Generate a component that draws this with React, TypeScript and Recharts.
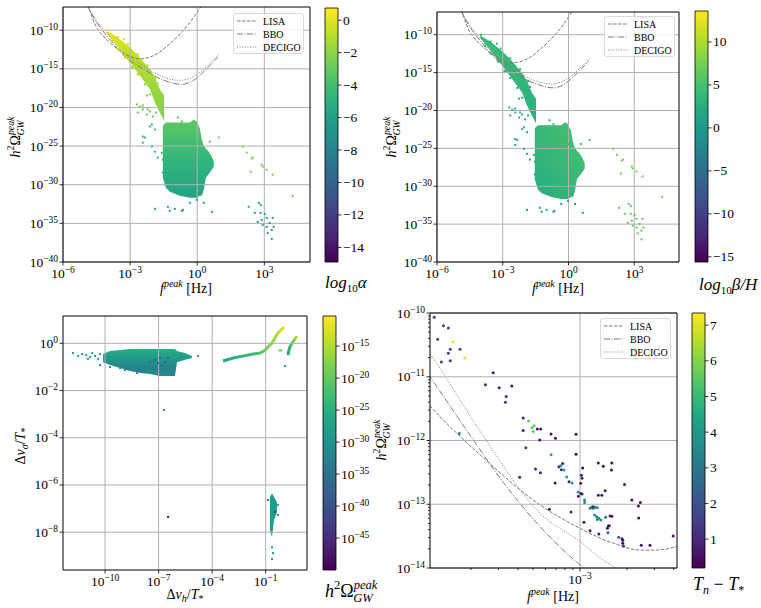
import React from 'react';
import { ComposedChart, Scatter, Line, Area, XAxis, YAxis, ReferenceLine, ReferenceArea, Legend } from 'recharts';

const SERIF = '"Liberation Serif", "DejaVu Serif", "Times New Roman", serif';
const GRID = '#b0b0b0';
const CURVE = '#7a7a7a';

// ---------------- colormap ----------------
const VIRIDIS = ['#440154', '#482475', '#414487', '#355f8d', '#2a788e', '#21918c', '#22a884', '#44bf70', '#7ad151', '#bddf26', '#fde725'];
function hexRgb(h: string) {
  return [parseInt(h.slice(1, 3), 16), parseInt(h.slice(3, 5), 16), parseInt(h.slice(5, 7), 16)];
}
function viridis(t: number) {
  const c = Math.max(0, Math.min(1, t)) * (VIRIDIS.length - 1);
  const i = Math.min(Math.floor(c), VIRIDIS.length - 2);
  const f = c - i;
  const a = hexRgb(VIRIDIS[i]);
  const b = hexRgb(VIRIDIS[i + 1]);
  const m = a.map((v, k) => Math.round(v + (b[k] - v) * f));
  return `rgb(${m[0]},${m[1]},${m[2]})`;
}

// ---------------- axes ----------------
const topFreqDomain = [1e-6, 1.1e5];
const topOmegaDomain = [1e-40, 1e-7];
const topFreqTicks = [1e-6, 1e-3, 1, 1e3];
const topOmegaTicks = [1e-40, 1e-35, 1e-30, 1e-25, 1e-20, 1e-15, 1e-10];

const dvhDomain = [4.4e-13, 20.7];
const dvsDomain = [2.5e-10, 14.4];
const dvhTicks = [1e-10, 1e-7, 1e-4, 1e-1];
const dvsTicks = [1e-8, 1e-6, 1e-4, 1e-2, 1];

const zoomFreqDomain = [1.09e-4, 4.19e-3];
const zoomOmegaDomain = [1e-14, 1e-10];
const zoomFreqMajor = [1e-3];
const zoomFreqTicks = [2e-4, 3e-4, 4e-4, 5e-4, 6e-4, 7e-4, 8e-4, 9e-4, 1e-3, 2e-3, 3e-3, 4e-3];
const zoomOmegaMajor = [1e-14, 1e-13, 1e-12, 1e-11, 1e-10];
const zoomOmegaTicks = [
  1e-14, 2e-14, 3e-14, 4e-14, 5e-14, 6e-14, 7e-14, 8e-14, 9e-14,
  1e-13, 2e-13, 3e-13, 4e-13, 5e-13, 6e-13, 7e-13, 8e-13, 9e-13,
  1e-12, 2e-12, 3e-12, 4e-12, 5e-12, 6e-12, 7e-12, 8e-12, 9e-12,
  1e-11, 2e-11, 3e-11, 4e-11, 5e-11, 6e-11, 7e-11, 8e-11, 9e-11, 1e-10,
];

// colorbars
const alphaRange = [-14.9, 0.75];
const alphaTicks = [-14, -12, -10, -8, -6, -4, -2, 0];
const betaRange = [-15.6, 13.6];
const betaTicks = [-15, -10, -5, 0, 5, 10];
const omegaCbRange = [1e-50, 5e-11];
const omegaCbTicks = [1e-45, 1e-40, 1e-35, 1e-30, 1e-25, 1e-20, 1e-15];
const tnRange = [0.19, 7.34];
const tnTicks = [1, 2, 3, 4, 5, 6, 7];

// ---------------- sensitivity curves ----------------
const lisaCurve = [
  { x: 1.3e-5, y: 2e-7 }, { x: 3e-5, y: 3e-10 }, { x: 6e-5, y: 2e-11 }, { x: 1.09e-4, y: 3.48e-12 },
  { x: 2.29e-4, y: 5.93e-13 }, { x: 5.55e-4, y: 9.73e-14 }, { x: 1e-3, y: 4.19e-14 }, { x: 1.64e-3, y: 2.44e-14 },
  { x: 2.43e-3, y: 1.91e-14 }, { x: 3.1e-3, y: 1.91e-14 }, { x: 4.17e-3, y: 2.16e-14 }, { x: 0.0174, y: 1.0e-13 },
  { x: 0.049, y: 1.1e-12 }, { x: 0.136, y: 1.7e-11 }, { x: 0.38, y: 4.5e-10 }, { x: 0.87, y: 1.2e-8 }, { x: 1.7, y: 2e-7 },
];
const bboCurve = [
  { x: 1.2e-5, y: 2e-7 }, { x: 3e-5, y: 1.3e-9 }, { x: 6e-5, y: 8e-11 }, { x: 1.09e-4, y: 1.0e-11 },
  { x: 1.88e-4, y: 1.43e-12 }, { x: 3.23e-4, y: 2.18e-13 }, { x: 5.55e-4, y: 4.44e-14 }, { x: 8.22e-4, y: 1.7e-14 },
  { x: 1.08e-3, y: 9.5e-15 }, { x: 3.7e-3, y: 1.1e-15 }, { x: 0.0128, y: 1.1e-16 }, { x: 0.044, y: 2.4e-17 },
  { x: 0.206, y: 9.8e-18 }, { x: 0.574, y: 2.4e-17 }, { x: 1.31, y: 1.4e-16 }, { x: 3.65, y: 2.8e-15 }, { x: 8.3, y: 3.1e-14 },
];
const decigoCurve = [
  { x: 1.1e-5, y: 2e-7 }, { x: 3e-5, y: 2e-9 }, { x: 6e-5, y: 1.6e-10 }, { x: 1.09e-4, y: 2.33e-11 },
  { x: 2.29e-4, y: 1.39e-12 }, { x: 5.55e-4, y: 7.2e-14 }, { x: 1e-3, y: 2.6e-14 }, { x: 1.41e-3, y: 1.33e-14 },
  { x: 1.76e-3, y: 9.5e-15 }, { x: 3.7e-3, y: 2.8e-15 }, { x: 0.0128, y: 2.6e-16 }, { x: 0.044, y: 5.9e-17 },
  { x: 0.167, y: 3.2e-17 }, { x: 0.468, y: 5.9e-17 }, { x: 1.31, y: 3.5e-16 }, { x: 3.65, y: 5.1e-15 }, { x: 9.2, y: 7.6e-14 },
];
const curveOrder = ['LISA', 'BBO', 'DECIGO'];
const curveDash: Record<string, string> = { LISA: '3.5 1.5', BBO: '6 1.5 1 1.5', DECIGO: '1 1.6' };

// ---------------- panels 1 & 2 : scan points (f_peak, h2 Omega) ----------------
const scanStreak = [
  { x: 9.2e-5, r: [4.1e-11, 7.4e-11] },
  { x: 1.7e-4, r: [5.0e-12, 3.0e-11] },
  { x: 3.5e-4, r: [3.4e-13, 6.8e-12] },
  { x: 9.8e-4, r: [6.9e-15, 6.2e-13] },
  { x: 2.7e-3, r: [1.4e-16, 3.1e-14] },
  { x: 7.7e-3, r: [2.2e-18, 8.7e-16] },
  { x: 0.0128, r: [4.5e-20, 7.9e-17] },
  { x: 0.0214, r: [2.2e-21, 2.2e-18] },
  { x: 0.033, r: [2.0e-22, 3.6e-19] },
];
const scanBlob = [
  { x: 0.029, r: [8.1e-30, 4.6e-23] },
  { x: 0.0396, r: [4.1e-31, 1.1e-22] },
  { x: 0.0598, r: [1.2e-31, 1.1e-22] },
  { x: 0.167, r: [3.7e-32, 1.1e-22] },
  { x: 0.468, r: [2.0e-32, 1.1e-22] },
  { x: 0.705, r: [2.0e-32, 2.8e-22] },
  { x: 0.96, r: [2.0e-32, 1.5e-22] },
  { x: 1.31, r: [3.7e-32, 1.9e-23] },
  { x: 1.6, r: [3.7e-32, 6.9e-25] },
  { x: 1.97, r: [2.2e-31, 1.1e-25] },
  { x: 2.42, r: [8.1e-30, 4.8e-26] },
  { x: 3.3, r: [2.7e-29, 1.9e-26] },
  { x: 4.49, r: [8.9e-29, 4.4e-27] },
  { x: 5.5, r: [2.2e-28, 9.7e-28] },
];
// a = log10 alpha, b = log10 beta/H
const scanPoints = [
  { x: 1.02e-4, y: 1e-10, a: 0.3, b: 3.5 },
  { x: 2.3e-4, y: 1.2e-11, a: -0.3, b: 3.2 },
  { x: 5.3e-4, y: 6.8e-12, a: -0.6, b: 3.0 },
  { x: 8.0e-4, y: 3.4e-13, a: -0.9, b: 2.8 },
  { x: 6.5e-4, y: 3.1e-14, a: -0.8, b: 2.6 },
  { x: 1.8e-3, y: 9.3e-15, a: -1.2, b: 2.6 },
  { x: 1.2e-3, y: 1.6e-15, a: -1.3, b: 2.5 },
  { x: 0.0174, y: 1.3e-17, a: -1.6, b: 2.5 },
  { x: 5.6e-3, y: 3.6e-19, a: -2.2, b: 2.5 },
  { x: 0.0214, y: 1.1e-19, a: -2.0, b: 2.5 },
  { x: 1.54e-4, y: 3.7e-12, a: -0.5, b: 3.0 },
  { x: 2.85e-4, y: 3.4e-13, a: -0.8, b: 2.9 },
  { x: 5.9e-4, y: 3.1e-14, a: -1.0, b: 2.8 },
  { x: 1.33e-3, y: 1.6e-15, a: -1.3, b: 2.8 },
  { x: 2.2e-3, y: 1.9e-16, a: -1.6, b: 2.7 },
  { x: 4.6e-3, y: 9.8e-18, a: -1.9, b: 2.7 },
  { x: 7.7e-3, y: 4.9e-19, a: -2.1, b: 2.6 },
  { x: 2.85e-4, y: 1.2e-11, a: -0.3, b: 3.2 },
  { x: 8.0e-4, y: 1.5e-12, a: -0.6, b: 3.0 },
  { x: 2.2e-3, y: 7.6e-14, a: -1.0, b: 2.9 },
  { x: 6.2e-3, y: 2.8e-15, a: -1.3, b: 2.8 },
  { x: 0.0142, y: 7.9e-17, a: -1.6, b: 2.7 },
  { x: 2.0e-3, y: 2.5e-20, a: -2.8, b: 3.0 },
  { x: 2.7e-3, y: 1.3e-20, a: -2.7, b: 3.0 },
  { x: 3.7e-3, y: 5.5e-21, a: -2.9, b: 2.9 },
  { x: 6.2e-3, y: 5.5e-21, a: -2.8, b: 3.0 },
  { x: 2.2e-3, y: 2.2e-21, a: -2.9, b: 2.8 },
  { x: 5.6e-3, y: 1.2e-21, a: -2.8, b: 3.0 },
  { x: 0.0104, y: 6.8e-22, a: -2.9, b: 3.1 },
  { x: 3.7e-3, y: 1.8e-20, a: -2.8, b: 3.0 },
  { x: 7.7e-3, y: 3.0e-21, a: -2.9, b: 3.0 },
  { x: 0.0142, y: 2.2e-21, a: -2.8, b: 3.1 },
  { x: 3.7e-3, y: 1.7e-24, a: -4.2, b: 2.2 },
  { x: 7.7e-3, y: 3.4e-23, a: -4.0, b: 2.3 },
  { x: 0.0128, y: 1.4e-23, a: -4.1, b: 2.2 },
  { x: 4.6e-3, y: 1.3e-24, a: -4.3, b: 2.1 },
  { x: 3.7e-3, y: 2.8e-25, a: -4.4, b: 2.0 },
  { x: 9.4e-3, y: 8.7e-26, a: -4.4, b: 2.2 },
  { x: 0.0128, y: 1.9e-26, a: -4.5, b: 2.1 },
  { x: 0.0263, y: 1.4e-26, a: -4.4, b: 2.2 },
  { x: 0.0174, y: 3.3e-27, a: -4.6, b: 2.0 },
  { x: 0.0291, y: 1.8e-27, a: -4.6, b: 2.1 },
  { x: 9.4e-3, y: 6.2e-23, a: -4.0, b: 2.4 },
  { x: 0.0291, y: 3.6e-29, a: -5.0, b: 1.9 },
  { x: 0.044, y: 1.8e-30, a: -5.4, b: 1.8 },
  { x: 0.136, y: 5.0e-22, a: -3.3, b: 3.5 },
  { x: 0.206, y: 1.5e-22, a: -3.4, b: 3.4 },
  { x: 0.782, y: 2.5e-23, a: -3.4, b: 3.6 },
  { x: 1.06, y: 3.8e-25, a: -3.6, b: 3.8 },
  { x: 3.65, y: 3.8e-25, a: -3.3, b: 4.5 },
  { x: 9.2, y: 1.3e-24, a: -3.0, b: 5.0 },
  { x: 109, y: 8.7e-26, a: -2.3, b: 7.4 },
  { x: 164, y: 1.4e-26, a: -2.2, b: 7.5 },
  { x: 303, y: 3.3e-27, a: -2.3, b: 7.6 },
  { x: 274, y: 2.4e-27, a: -2.2, b: 7.4 },
  { x: 766, y: 4.0e-28, a: -2.4, b: 7.5 },
  { x: 849, y: 2.2e-28, a: -2.3, b: 7.6 },
  { x: 1279, y: 8.9e-29, a: -2.4, b: 7.5 },
  { x: 2371, y: 2.0e-29, a: -2.5, b: 7.5 },
  { x: 247, y: 4.9e-29, a: -2.6, b: 7.2 },
  { x: 18530, y: 3.7e-32, a: -3.0, b: 7.0 },
  { x: 201, y: 1.4e-33, a: -5.8, b: 6.3 },
  { x: 562, y: 4.6e-33, a: -5.7, b: 6.5 },
  { x: 690, y: 2.5e-33, a: -5.8, b: 6.4 },
  { x: 373, y: 2.3e-34, a: -5.9, b: 6.5 },
  { x: 690, y: 2.3e-34, a: -5.8, b: 6.6 },
  { x: 1042, y: 1.7e-34, a: -5.8, b: 6.5 },
  { x: 766, y: 2.8e-35, a: -6.0, b: 6.4 },
  { x: 1279, y: 5.1e-35, a: -5.9, b: 6.6 },
  { x: 1742, y: 1.1e-35, a: -5.9, b: 6.5 },
  { x: 2371, y: 5.1e-35, a: -5.8, b: 6.7 },
  { x: 1279, y: 3.5e-36, a: -6.0, b: 6.5 },
  { x: 2138, y: 1.4e-36, a: -6.0, b: 6.6 },
  { x: 1419, y: 5.9e-37, a: -6.1, b: 6.4 },
  { x: 2138, y: 9.8e-38, a: -6.1, b: 6.5 },
  { x: 2630, y: 3.5e-36, a: -5.9, b: 6.7 },
  { x: 507, y: 1.5e-35, a: -6.0, b: 6.4 },
  { x: 849, y: 6.4e-36, a: -6.0, b: 6.5 },
  { x: 0.0128, y: 7.6e-34, a: -6.0, b: 1.5 },
  { x: 0.0598, y: 4.2e-34, a: -6.1, b: 1.4 },
  { x: 0.1, y: 7.6e-34, a: -6.0, b: 1.5 },
  { x: 0.206, y: 4.2e-34, a: -6.1, b: 1.6 },
  { x: 0.0488, y: 1.4e-33, a: -6.0, b: 1.5 },
  { x: 0.228, y: 5.6e-34, a: -6.0, b: 1.5 },
  { x: 4.49, y: 3.1e-34, a: -5.9, b: 1.8 },
  { x: 0.96, y: 1.1e-32, a: -6.0, b: 1.6 },
  { x: 0.468, y: 4.6e-33, a: -6.0, b: 1.5 },
  { x: 1.97, y: 4.6e-33, a: -5.9, b: 1.7 },
];

// ---------------- panel 3 : (dv_h/T, dv_sigma/T) ----------------
const wallCluster = [
  { x: 7.7e-11, r: [0.16, 0.35] },
  { x: 1.9e-10, r: [0.12, 0.47] },
  { x: 6.9e-10, r: [0.09, 0.52] },
  { x: 2.5e-9, r: [0.067, 0.57] },
  { x: 9.1e-9, r: [0.055, 0.57] },
  { x: 3.3e-8, r: [0.05, 0.57] },
  { x: 1.2e-7, r: [0.041, 0.57] },
  { x: 4.4e-7, r: [0.041, 0.57] },
  { x: 8.3e-7, r: [0.041, 0.57] },
  { x: 1.07e-6, r: [0.16, 0.47] },
  { x: 3.0e-6, r: [0.2, 0.39] },
  { x: 7.4e-6, r: [0.24, 0.29] },
];
const wallColumn = [
  { x: 0.175, r: [1.2e-8, 3.1e-7] },
  { x: 0.227, r: [6.2e-9, 4.5e-7] },
  { x: 0.294, r: [3.3e-8, 3.1e-7] },
  { x: 0.38, r: [5.4e-8, 2.3e-7] },
  { x: 0.43, r: [7.1e-8, 1.7e-7] },
];
const wallArcA = [
  { x: 4.1e-4, y: 0.178 }, { x: 7.8e-4, y: 0.206 }, { x: 1.5e-3, y: 0.238 }, { x: 2.8e-3, y: 0.263 },
  { x: 5.4e-3, y: 0.29 }, { x: 0.0103, y: 0.32 }, { x: 0.0195, y: 0.352 }, { x: 0.0327, y: 0.37 },
  { x: 0.048, y: 0.388 }, { x: 0.071, y: 0.45 }, { x: 0.092, y: 0.52 }, { x: 0.135, y: 0.7 },
  { x: 0.175, y: 0.85 }, { x: 0.227, y: 1.03 }, { x: 0.334, y: 1.68 }, { x: 0.492, y: 2.73 },
  { x: 0.64, y: 3.32 }, { x: 0.82, y: 4.04 }, { x: 1.07, y: 4.91 },
];
const wallArcB = [
  { x: 1.79, y: 0.32 }, { x: 2.03, y: 0.52 }, { x: 2.63, y: 0.85 }, { x: 3.4, y: 1.14 }, { x: 4.4, y: 1.52 }, { x: 5.7, y: 2.04 },
];
// c = log10 h2 Omega_GW^peak
const wallPoints = [
  { x: 1.6e-12, y: 0.39, c: -27 }, { x: 3.1e-12, y: 0.29, c: -27 }, { x: 5.2e-12, y: 0.35, c: -28 },
  { x: 8.7e-12, y: 0.32, c: -27 }, { x: 1.45e-11, y: 0.26, c: -28 }, { x: 1.9e-11, y: 0.39, c: -26 },
  { x: 2.8e-11, y: 0.29, c: -27 }, { x: 4.1e-11, y: 0.22, c: -28 }, { x: 5.2e-11, y: 0.35, c: -27 },
  { x: 1.1e-11, y: 0.22, c: -28 }, { x: 5.2e-11, y: 0.12, c: -29 }, { x: 1.9e-10, y: 0.099, c: -29 },
  { x: 6.9e-10, y: 0.09, c: -29 }, { x: 1.3e-9, y: 0.074, c: -30 }, { x: 6.2e-9, y: 0.055, c: -30 },
  { x: 5.8e-6, y: 0.26, c: -26 }, { x: 1.6e-5, y: 0.29, c: -26 },
  { x: 6.3e-8, y: 0.2, c: -38 }, { x: 1.2e-7, y: 0.24, c: -37 }, { x: 2.3e-7, y: 0.16, c: -39 },
  { x: 3.4e-7, y: 0.24, c: -38 }, { x: 1.5e-7, y: 0.12, c: -36 }, { x: 9.3e-8, y: 0.146, c: -37 },
  { x: 3.3e-8, y: 0.16, c: -36 },
  { x: 2.0e-7, y: 1.5e-3, c: -29 }, { x: 3.4e-7, y: 4.4e-8, c: -48 }, { x: 1.21, y: 0.11, c: -28 },
  { x: 0.227, y: 2.3e-9, c: -28 }, { x: 0.258, y: 1.3e-9, c: -28 }, { x: 0.227, y: 7.2e-10, c: -29 },
  { x: 0.334, y: 7.1e-8, c: -41 }, { x: 0.49, y: 1.4e-7, c: -27 }, { x: 0.135, y: 2.3e-7, c: -32 },
  { x: 0.49, y: 5.4e-8, c: -28 }, { x: 0.6, y: 0.5, c: -20 }, { x: 0.75, y: 0.5, c: -20 },
];

// ---------------- panel 4 : zoom near LISA band ----------------
const zoomPoints = [
  { x: 1.16e-4, y: 8.55e-11, t: 1.5 }, { x: 1.22e-4, y: 3.86e-11, t: 1.6 }, { x: 1.33e-4, y: 6.33e-11, t: 1.6 },
  { x: 1.43e-4, y: 5.82e-11, t: 1.5 }, { x: 1.53e-4, y: 3.51e-11, t: 7.2 }, { x: 1.47e-4, y: 2.69e-11, t: 1.6 },
  { x: 1.43e-4, y: 2.33e-11, t: 1.6 }, { x: 1.29e-4, y: 1.7e-11, t: 1.6 }, { x: 1.47e-4, y: 1.79e-11, t: 1.6 },
  { x: 1.7e-4, y: 2.69e-11, t: 1.5 }, { x: 1.82e-4, y: 1.97e-11, t: 7.0 }, { x: 1.68e-4, y: 1.29e-12, t: 3.0 },
  { x: 2.77e-4, y: 1.16e-11, t: 0.6 }, { x: 2.47e-4, y: 7.52e-12, t: 0.9 }, { x: 3.03e-4, y: 6.75e-12, t: 0.8 },
  { x: 3.65e-4, y: 7.16e-12, t: 0.4 }, { x: 3.36e-4, y: 4.88e-12, t: 1.2 }, { x: 3.32e-4, y: 3.97e-12, t: 1.2 },
  { x: 4.32e-4, y: 2.25e-12, t: 0.8 }, { x: 4.67e-4, y: 2.02e-12, t: 5.6 }, { x: 4.92e-4, y: 1.59e-12, t: 5.5 },
  { x: 5.07e-4, y: 1.71e-12, t: 5.6 }, { x: 5.02e-4, y: 1.38e-12, t: 5.5 }, { x: 4.32e-4, y: 1.44e-12, t: 0.8 },
  { x: 5.32e-4, y: 1.51e-12, t: 0.6 }, { x: 5.6e-4, y: 1.51e-12, t: 0.6 }, { x: 5.51e-4, y: 1.02e-12, t: 0.6 },
  { x: 4.49e-4, y: 7.73e-13, t: 1.5 }, { x: 6.52e-4, y: 1.26e-12, t: 0.6 }, { x: 6.95e-4, y: 1.08e-12, t: 0.6 },
  { x: 9.43e-4, y: 1.25e-12, t: 0.5 }, { x: 6.52e-4, y: 6.0e-13, t: 4.6 }, { x: 4.1e-4, y: 2.64e-13, t: 0.8 },
  { x: 5.18e-4, y: 3.57e-13, t: 0.8 }, { x: 5.57e-4, y: 3.13e-13, t: 0.8 }, { x: 6.92e-4, y: 2.15e-13, t: 0.6 },
  { x: 6.36e-4, y: 8.32e-14, t: 0.6 }, { x: 9.43e-4, y: 6.07e-13, t: 0.4 }, { x: 7.33e-4, y: 3.89e-13, t: 0.8 },
  { x: 7.52e-4, y: 4.03e-13, t: 4.0 }, { x: 7.74e-4, y: 4.34e-13, t: 0.8 }, { x: 7.59e-4, y: 3.48e-13, t: 0.7 },
  { x: 7.89e-4, y: 3.44e-13, t: 4.2 }, { x: 8.22e-4, y: 2.67e-13, t: 4.3 }, { x: 8.5e-4, y: 2.26e-13, t: 0.8 },
  { x: 8.89e-4, y: 2.15e-13, t: 4.0 }, { x: 1.04e-3, y: 3.71e-13, t: 0.5 }, { x: 1.02e-3, y: 2.84e-13, t: 0.8 },
  { x: 1.03e-3, y: 2.55e-13, t: 0.8 }, { x: 1.01e-3, y: 2.13e-13, t: 0.8 }, { x: 9.71e-4, y: 1.56e-13, t: 3.8 },
  { x: 9.76e-4, y: 1.33e-13, t: 0.7 }, { x: 1.01e-3, y: 1.48e-13, t: 0.8 }, { x: 1.03e-3, y: 1.45e-13, t: 0.8 },
  { x: 1.07e-3, y: 1.17e-13, t: 3.8 }, { x: 1.07e-3, y: 1.07e-13, t: 3.8 }, { x: 1.06e-3, y: 5.2e-14, t: 0.7 },
  { x: 1.31e-3, y: 4.44e-13, t: 0.6 }, { x: 1.41e-3, y: 3.94e-13, t: 0.6 }, { x: 1.6e-3, y: 4.44e-13, t: 0.5 },
  { x: 1.59e-3, y: 3.44e-13, t: 0.5 }, { x: 1.93e-3, y: 2.05e-13, t: 0.5 }, { x: 1.45e-3, y: 1.63e-13, t: 0.8 },
  { x: 1.31e-3, y: 1.38e-13, t: 0.7 }, { x: 1.38e-3, y: 1.38e-13, t: 0.7 }, { x: 2.15e-3, y: 1.17e-13, t: 0.5 },
  { x: 2.44e-3, y: 1.07e-13, t: 0.5 }, { x: 2.37e-3, y: 9.4e-14, t: 0.5 }, { x: 8.75e-4, y: 7.55e-14, t: 0.8 },
  { x: 1.16e-3, y: 8.63e-14, t: 3.6 }, { x: 1.19e-3, y: 8.95e-14, t: 3.6 }, { x: 1.22e-3, y: 8.63e-14, t: 3.7 },
  { x: 1.25e-3, y: 8.95e-14, t: 3.6 }, { x: 1.29e-3, y: 8.83e-14, t: 3.8 }, { x: 1.21e-3, y: 9.16e-14, t: 0.7 },
  { x: 1.24e-3, y: 6.78e-14, t: 3.8 }, { x: 1.28e-3, y: 6.38e-14, t: 3.6 }, { x: 1.32e-3, y: 6.01e-14, t: 3.7 },
  { x: 1.36e-3, y: 5.66e-14, t: 3.8 }, { x: 1.29e-3, y: 5.79e-14, t: 3.6 }, { x: 1.46e-3, y: 6.24e-14, t: 2.8 },
  { x: 1.56e-3, y: 6.54e-14, t: 0.6 }, { x: 1.6e-3, y: 6.46e-14, t: 0.6 }, { x: 1.52e-3, y: 4.56e-14, t: 0.6 },
  { x: 1.54e-3, y: 4.61e-14, t: 0.6 }, { x: 1.5e-3, y: 4.19e-14, t: 0.6 }, { x: 1.16e-3, y: 3.85e-14, t: 0.7 },
  { x: 1.51e-3, y: 3.58e-14, t: 2.6 }, { x: 1.32e-3, y: 3.41e-14, t: 0.6 }, { x: 1.77e-3, y: 3.03e-14, t: 2.2 },
  { x: 1.86e-3, y: 2.88e-14, t: 0.5 }, { x: 1.88e-3, y: 2.72e-14, t: 0.5 }, { x: 1.88e-3, y: 2.44e-14, t: 0.5 },
  { x: 1.9e-3, y: 2.21e-14, t: 1.0 }, { x: 2.47e-3, y: 2.27e-14, t: 0.5 }, { x: 2.81e-3, y: 2.27e-14, t: 0.5 },
  { x: 3.96e-3, y: 3.18e-14, t: 0.5 }, { x: 2.38e-3, y: 6.08e-14, t: 0.5 },
];

// ---------------- helpers ----------------
const norm = (v: number, r: number[]) => (v - r[0]) / (r[1] - r[0]);
const lognorm = (e: number, r: number[]) => (e - Math.log10(r[0])) / (Math.log10(r[1]) - Math.log10(r[0]));

const TICK_FS = 13.5;
const SUP_FS = 9.5;

function expLabel(v: number) {
  const e = Math.round(Math.log10(v));
  return e < 0 ? '\u2212' + String(-e) : String(e);
}
function isMajor(v: number, majors?: number[]) {
  if (!majors) return true;
  return majors.some((m) => Math.abs(m - v) / m < 1e-6);
}

function LogTick(props: any) {
  const { x, y, payload, side, majors } = props;
  const v = payload.value;
  const major = isMajor(v, majors);
  const L = major ? 3.5 : 2;
  if (side === 'bottom') {
    return (
      <g>
        <line x1={x} x2={x} y1={y} y2={y + L} stroke="#000" strokeWidth={0.8} />
        {major && (
          <text x={x} y={y + 15.5} textAnchor="middle" fontFamily={SERIF} fontSize={TICK_FS} fill="#000">
            10<tspan dy={-5} fontSize={SUP_FS}>{expLabel(v)}</tspan>
          </text>
        )}
      </g>
    );
  }
  return (
    <g>
      <line x1={x - L} x2={x} y1={y} y2={y} stroke="#000" strokeWidth={0.8} />
      {major && (
        <text x={x - 5} y={y + 4.5} textAnchor="end" fontFamily={SERIF} fontSize={TICK_FS} fill="#000">
          10<tspan dy={-5} fontSize={SUP_FS}>{expLabel(v)}</tspan>
        </text>
      )}
    </g>
  );
}

function CbTick(props: any) {
  const { x, y, payload, log } = props;
  const v = payload.value;
  return (
    <g>
      <line x1={x} x2={x + 3.5} y1={y} y2={y} stroke="#000" strokeWidth={0.8} />
      {log ? (
        <text x={x + 5} y={y + 4.5} fontFamily={SERIF} fontSize={TICK_FS} fill="#000">
          10<tspan dy={-5} fontSize={SUP_FS}>{expLabel(v)}</tspan>
        </text>
      ) : (
        <text x={x + 5} y={y + 4.5} fontFamily={SERIF} fontSize={TICK_FS} fill="#000">
          {v < 0 ? '\u2212' + String(-v) : String(v)}
        </text>
      )}
    </g>
  );
}

function SensLegend(props: any) {
  const items = (props.payload || [])
    .filter((p: any) => curveDash[p.value])
    .slice()
    .sort((a: any, b: any) => curveOrder.indexOf(a.value) - curveOrder.indexOf(b.value));
  return (
    <svg width={72} height={42} style={{ display: 'block', overflow: 'visible' }}>
      <rect x={0.5} y={0.5} width={70} height={40} rx={2.5} fill="#fff" fillOpacity={0.85} stroke="#d0d0d0" strokeWidth={0.8} />
      {items.map((it: any, i: number) => (
        <g key={it.value}>
          <line x1={4} x2={24} y1={8 + i * 13} y2={8 + i * 13} stroke={CURVE} strokeWidth={1} strokeDasharray={curveDash[it.value]} />
          <text x={30} y={11.5 + i * 13} fontSize={10} fontFamily={SERIF} fill="#000">
            {it.value}
          </text>
        </g>
      ))}
    </svg>
  );
}

const sq = (size: number, color: (p: any) => string) => (p: any) => (
  <rect x={p.cx - size / 2} y={p.cy - size / 2} width={size} height={size} fill={color(p.payload)} />
);
const dot = (r: number, color: (p: any) => string) => (p: any) => (
  <circle cx={p.cx} cy={p.cy} r={r} fill={color(p.payload)} />
);

function sensLines() {
  return [
    <Line key="lisa" data={lisaCurve} dataKey="y" name="LISA" type="monotone" stroke={CURVE} strokeWidth={1} strokeDasharray={curveDash.LISA} dot={false} activeDot={false} isAnimationActive={false} />,
    <Line key="bbo" data={bboCurve} dataKey="y" name="BBO" type="monotone" stroke={CURVE} strokeWidth={1} strokeDasharray={curveDash.BBO} dot={false} activeDot={false} isAnimationActive={false} />,
    <Line key="decigo" data={decigoCurve} dataKey="y" name="DECIGO" type="monotone" stroke={CURVE} strokeWidth={1} strokeDasharray={curveDash.DECIGO} dot={false} activeDot={false} isAnimationActive={false} />,
  ];
}

function gridLines(xs: number[], ys: number[]) {
  return [
    ...xs.map((v) => <ReferenceLine key={'gx' + v} x={v} stroke={GRID} strokeWidth={1} zIndex={450} />),
    ...ys.map((v) => <ReferenceLine key={'gy' + v} y={v} stroke={GRID} strokeWidth={1} zIndex={450} />),
  ];
}

function ColorBar(props: any) {
  const { left, top, width, height, mt, mb, ml, domain, ticks, log } = props;
  return (
    <div style={{ position: 'absolute', left, top }}>
      <ComposedChart width={width} height={height} margin={{ top: mt, right: 0, bottom: mb, left: ml }} data={[{ x: 0 }, { x: 1 }]}>
        <XAxis type="number" dataKey="x" domain={[0, 1]} hide />
        <YAxis
          orientation="right"
          type="number"
          scale={log ? 'log' : 'linear'}
          domain={domain}
          allowDataOverflow
          ticks={ticks}
          interval={0}
          width={width - ml - 13}
          axisLine={false}
          tickLine={false}
          tickSize={0}
          tickMargin={0}
          tick={<CbTick log={log} />}
        />
        <ReferenceArea x1={0} x2={1} y1={domain[0]} y2={domain[1]} fill="url(#cbViridis)" fillOpacity={1} stroke="#000" strokeWidth={0.8} ifOverflow="visible" />
      </ComposedChart>
    </div>
  );
}

function ScanPanel(props: any) {
  const { left, width, yw, mt, mr, streakFill, blobFill, colorOf, legendLeft, legendTop } = props;
  const h = 300;
  return (
    <div style={{ position: 'absolute', left, top: 0 }}>
      <ComposedChart width={width} height={h} margin={{ top: mt, right: mr, bottom: 0, left: 0 }}>
        <XAxis type="number" dataKey="x" scale="log" domain={topFreqDomain} allowDataOverflow ticks={topFreqTicks} interval={0} height={38} axisLine={false} tickLine={false} tickSize={0} tickMargin={0} tick={<LogTick side="bottom" />} />
        <YAxis type="number" dataKey="y" scale="log" domain={topOmegaDomain} allowDataOverflow ticks={topOmegaTicks} interval={0} width={yw} axisLine={false} tickLine={false} tickSize={0} tickMargin={0} tick={<LogTick side="left" />} />
        <Area data={scanStreak} dataKey="r" type="linear" stroke="none" fill={streakFill} fillOpacity={1} dot={false} activeDot={false} legendType="none" isAnimationActive={false} />
        <Area data={scanBlob} dataKey="r" type="linear" stroke="none" fill={blobFill} fillOpacity={1} dot={false} activeDot={false} legendType="none" isAnimationActive={false} />
        <Scatter data={scanPoints} shape={sq(2, colorOf)} legendType="none" isAnimationActive={false} />
        {gridLines(topFreqTicks, topOmegaTicks)}
        {sensLines()}
        <ReferenceArea x1={topFreqDomain[0]} x2={topFreqDomain[1]} y1={topOmegaDomain[0]} y2={topOmegaDomain[1]} fill="none" stroke="#000" strokeWidth={1} ifOverflow="visible" zIndex={900} />
        <Legend layout="vertical" align="center" verticalAlign="middle" content={<SensLegend />} wrapperStyle={{ position: 'absolute', left: legendLeft, top: legendTop, width: 72, height: 42 }} />
      </ComposedChart>
    </div>
  );
}

function WallPanel() {
  const colorOf = (p: any) => viridis(lognorm(p.c, omegaCbRange));
  return (
    <div style={{ position: 'absolute', left: 0, top: 300 }}>
      <ComposedChart width={318} height={308} margin={{ top: 16, right: 11, bottom: 0, left: 0 }}>
        <XAxis type="number" dataKey="x" scale="log" domain={dvhDomain} allowDataOverflow ticks={dvhTicks} interval={0} height={38} axisLine={false} tickLine={false} tickSize={0} tickMargin={0} tick={<LogTick side="bottom" />} />
        <YAxis type="number" dataKey="y" scale="log" domain={dvsDomain} allowDataOverflow ticks={dvsTicks} interval={0} width={63} axisLine={false} tickLine={false} tickSize={0} tickMargin={0} tick={<LogTick side="left" />} />
        <Area data={wallCluster} dataKey="r" type="linear" stroke="none" fill="url(#p3Cluster)" fillOpacity={1} dot={false} activeDot={false} legendType="none" isAnimationActive={false} />
        <Area data={wallColumn} dataKey="r" type="linear" stroke="none" fill="#1f9e89" fillOpacity={1} dot={false} activeDot={false} legendType="none" isAnimationActive={false} />
        <Line data={wallArcA} dataKey="y" type="monotone" stroke="url(#p3ArcA)" strokeWidth={3} dot={false} activeDot={false} legendType="none" isAnimationActive={false} />
        <Line data={wallArcB} dataKey="y" type="monotone" stroke="url(#p3ArcB)" strokeWidth={3} dot={false} activeDot={false} legendType="none" isAnimationActive={false} />
        <Scatter data={wallPoints} shape={sq(2, colorOf)} legendType="none" isAnimationActive={false} />
        {gridLines(dvhTicks, dvsTicks)}
        <ReferenceArea x1={dvhDomain[0]} x2={dvhDomain[1]} y1={dvsDomain[0]} y2={dvsDomain[1]} fill="none" stroke="#000" strokeWidth={1} ifOverflow="visible" zIndex={900} />
      </ComposedChart>
    </div>
  );
}

function ZoomPanel() {
  const colorOf = (p: any) => viridis(norm(p.t, tnRange));
  return (
    <div style={{ position: 'absolute', left: 370, top: 300 }}>
      <ComposedChart width={320} height={308} margin={{ top: 13, right: 13, bottom: 0, left: 0 }}>
        <XAxis type="number" dataKey="x" scale="log" domain={zoomFreqDomain} allowDataOverflow ticks={zoomFreqTicks} interval={0} height={40} axisLine={false} tickLine={false} tickSize={0} tickMargin={0} tick={<LogTick side="bottom" majors={zoomFreqMajor} />} />
        <YAxis type="number" dataKey="y" scale="log" domain={zoomOmegaDomain} allowDataOverflow ticks={zoomOmegaTicks} interval={0} width={60} axisLine={false} tickLine={false} tickSize={0} tickMargin={0} tick={<LogTick side="left" majors={zoomOmegaMajor} />} />
        {gridLines(zoomFreqMajor, zoomOmegaMajor)}
        {sensLines()}
        <Scatter data={zoomPoints} shape={dot(1.5, colorOf)} legendType="none" isAnimationActive={false} />
        <ReferenceArea x1={zoomFreqDomain[0]} x2={zoomFreqDomain[1]} y1={zoomOmegaDomain[0]} y2={zoomOmegaDomain[1]} fill="none" stroke="#000" strokeWidth={1} ifOverflow="visible" zIndex={900} />
        <Legend layout="vertical" align="center" verticalAlign="middle" content={<SensLegend />} wrapperStyle={{ position: 'absolute', left: 230, top: 18, width: 72, height: 42 }} />
      </ComposedChart>
    </div>
  );
}

function Defs() {
  return (
    <svg width={0} height={0} style={{ position: 'absolute' }}>
      <defs>
        <linearGradient id="cbViridis" x1="0" y1="1" x2="0" y2="0">
          {VIRIDIS.map((c, i) => <stop key={c} offset={i / (VIRIDIS.length - 1)} stopColor={c} />)}
        </linearGradient>
        <linearGradient id="p1Streak" x1="0" y1="0" x2="0" y2="1">
          <stop offset="0" stopColor="#e2e418" />
          <stop offset="0.3" stopColor="#bede27" />
          <stop offset="0.65" stopColor="#98d83e" />
          <stop offset="1" stopColor="#78d152" />
        </linearGradient>
        <linearGradient id="p1Blob" x1="0" y1="0" x2="0" y2="1">
          <stop offset="0" stopColor="#5ec862" />
          <stop offset="0.5" stopColor="#33b67a" />
          <stop offset="1" stopColor="#20a486" />
        </linearGradient>
        <linearGradient id="p2Streak" x1="0" y1="0" x2="0" y2="1">
          <stop offset="0" stopColor="#3dbb74" />
          <stop offset="1" stopColor="#2ab07f" />
        </linearGradient>
        <linearGradient id="p2Blob" x1="0" y1="1" x2="1" y2="0">
          <stop offset="0" stopColor="#25ac82" />
          <stop offset="1" stopColor="#4cc26c" />
        </linearGradient>
        <linearGradient id="p3Cluster" x1="0" y1="0" x2="0" y2="1">
          <stop offset="0" stopColor="#27ad81" />
          <stop offset="0.35" stopColor="#1f9a8a" />
          <stop offset="0.7" stopColor="#26838e" />
          <stop offset="1" stopColor="#238a8d" />
        </linearGradient>
        <linearGradient id="p3ArcA" x1="0" y1="0" x2="1" y2="0">
          <stop offset="0" stopColor="#22a884" />
          <stop offset="0.55" stopColor="#3dbc74" />
          <stop offset="0.8" stopColor="#8ed645" />
          <stop offset="1" stopColor="#e5e419" />
        </linearGradient>
        <linearGradient id="p3ArcB" x1="0" y1="0" x2="1" y2="0">
          <stop offset="0" stopColor="#1fa088" />
          <stop offset="0.5" stopColor="#5ec962" />
          <stop offset="1" stopColor="#c2df23" />
        </linearGradient>
      </defs>
    </svg>
  );
}

function Labels() {
  const base = { fontFamily: SERIF, fill: '#000' } as any;
  const fLabel = (x: number, y: number) => (
    <text x={x} y={y} textAnchor="middle" fontSize={14} {...base}>
      <tspan fontStyle="italic">f</tspan>
      <tspan fontStyle="italic" fontSize={10} dy={-6}>peak</tspan>
      <tspan dy={6}> [Hz]</tspan>
    </text>
  );
  const omegaLabel = (x: number, y: number, rot: boolean, fs: number) => (
    <text x={0} y={0} transform={rot ? `translate(${x},${y}) rotate(-90)` : `translate(${x},${y})`} textAnchor={rot ? 'middle' : 'start'} fontSize={fs} {...base}>
      <tspan fontStyle="italic">h</tspan>
      <tspan dy={-fs * 0.42} fontSize={fs * 0.7}>2</tspan>
      <tspan dy={fs * 0.42}>Ω</tspan>
      <tspan dy={-fs * 0.45} fontSize={fs * 0.7} fontStyle="italic">peak</tspan>
      <tspan dx={-fs * 1.35} dy={fs * 0.75} fontSize={fs * 0.7} fontStyle="italic">GW</tspan>
    </text>
  );
  return (
    <svg width={761} height={608} style={{ position: 'absolute', left: 0, top: 0, pointerEvents: 'none' }}>
      {fLabel(186, 293)}
      {fLabel(558, 293)}
      {fLabel(553, 601)}
      {omegaLabel(20, 137, true, 14)}
      {omegaLabel(396, 137, true, 14)}
      {omegaLabel(386, 440, true, 14)}
      <text x={185} y={599} textAnchor="middle" fontSize={14} {...base}>
        <tspan>Δ</tspan><tspan fontStyle="italic">v</tspan><tspan fontSize={10} dy={3} fontStyle="italic">h</tspan>
        <tspan dy={-3}>/</tspan><tspan fontStyle="italic">T</tspan><tspan fontSize={10} dy={3}>*</tspan>
      </text>
      <text x={0} y={0} transform="translate(25,446) rotate(-90)" textAnchor="middle" fontSize={14} {...base}>
        <tspan>Δ</tspan><tspan fontStyle="italic">v</tspan><tspan fontSize={10} dy={3} fontStyle="italic">σ</tspan>
        <tspan dy={-3}>/</tspan><tspan fontStyle="italic">T</tspan><tspan fontSize={10} dy={3}>*</tspan>
      </text>
      <text x={325} y={288} fontSize={17} fontStyle="italic" {...base}>
        log<tspan fontSize={11} dy={4} fontStyle="normal">10</tspan><tspan dy={-4}>α</tspan>
      </text>
      <text x={699} y={290} fontSize={17} fontStyle="italic" {...base}>
        log<tspan fontSize={11} dy={4} fontStyle="normal">10</tspan><tspan dy={-4}>β/H</tspan>
      </text>
      {omegaLabel(325, 597, false, 18)}
      <text x={693} y={590} fontSize={18} {...base}>
        <tspan fontStyle="italic">T</tspan><tspan fontSize={12} dy={4} fontStyle="italic">n</tspan>
        <tspan dy={-4}> − </tspan><tspan fontStyle="italic">T</tspan><tspan fontSize={12} dy={4}>*</tspan>
      </text>
    </svg>
  );
}

export default function App() {
  return (
    <div style={{ position: 'absolute', left: 0, top: 0, width: 761, height: 608, background: '#fff', fontFamily: SERIF, overflow: 'hidden' }}>
      <Defs />
      <ScanPanel left={0} width={320} yw={63} mt={7} mr={10} streakFill="url(#p1Streak)" blobFill="url(#p1Blob)" colorOf={(p: any) => viridis(norm(p.a, alphaRange))} legendLeft={233} legendTop={13} />
      <ColorBar left={320} top={0} width={60} height={300} mt={8} mb={38} ml={5} domain={alphaRange} ticks={alphaTicks} />
      <ScanPanel left={370} width={320} yw={67} mt={12} mr={11} streakFill="url(#p2Streak)" blobFill="url(#p2Blob)" colorOf={(p: any) => viridis(norm(p.b, betaRange))} legendLeft={234} legendTop={16} />
      <ColorBar left={690} top={0} width={71} height={300} mt={11} mb={38} ml={5} domain={betaRange} ticks={betaTicks} />
      <WallPanel />
      <ColorBar left={318} top={300} width={60} height={308} mt={16} mb={38} ml={5} domain={omegaCbRange} ticks={omegaCbTicks} log />
      <ZoomPanel />
      <ColorBar left={690} top={300} width={71} height={308} mt={13} mb={40} ml={2} domain={tnRange} ticks={tnTicks} />
      <Labels />
    </div>
  );
}
